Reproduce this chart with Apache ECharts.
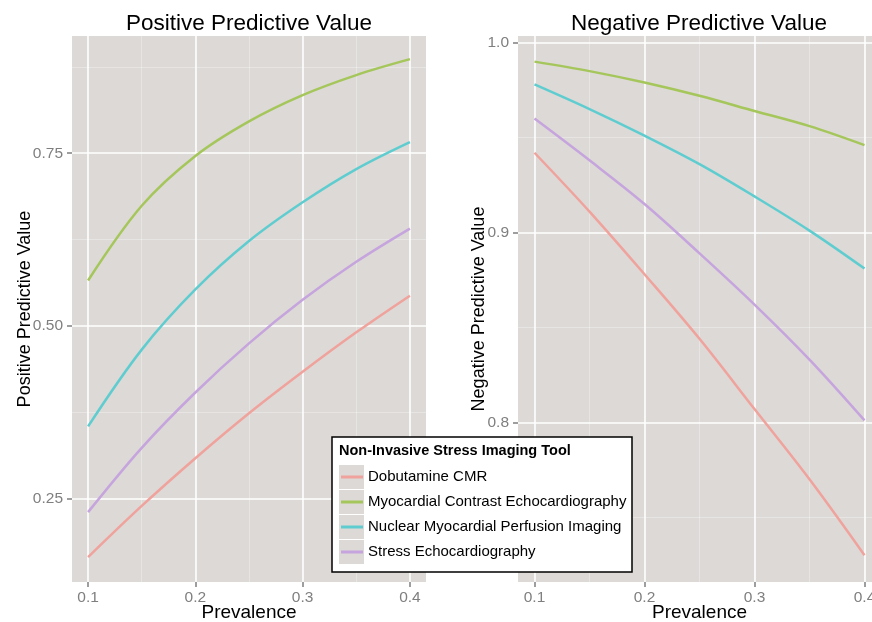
<!DOCTYPE html>
<html lang="en" style="height: 100%">
<head>
  <meta charset="utf-8">
</head>
<body style="height: 100%; margin: 0; background: #fff">
  <div id="container" style="width: 872px; height: 622px"></div>

  <script type="text/javascript" src="https://cdn.jsdelivr.net/npm/echarts@6/dist/echarts.min.js"></script>
  <script type="text/javascript">
    // prevalence values on the x axis
    var prevalence = [0.1, 0.15, 0.2, 0.25, 0.3, 0.35, 0.4];

    var toolNames = [
      'Dobutamine CMR',
      'Myocardial Contrast Echocardiography',
      'Nuclear Myocardial Perfusion Imaging',
      'Stress Echocardiography'
    ];

    // positive predictive value
    var ppvDobutamine = [0.166, 0.240, 0.309, 0.374, 0.434, 0.491, 0.544];
    var ppvContrast   = [0.566, 0.674, 0.746, 0.796, 0.834, 0.863, 0.886];
    var ppvNuclear    = [0.355, 0.466, 0.553, 0.623, 0.679, 0.727, 0.766];
    var ppvStress     = [0.231, 0.324, 0.404, 0.475, 0.538, 0.593, 0.641];

    // negative predictive value
    var npvDobutamine = [0.942, 0.911, 0.878, 0.844, 0.807, 0.770, 0.730];
    var npvContrast   = [0.990, 0.985, 0.979, 0.972, 0.964, 0.956, 0.946];
    var npvNuclear    = [0.978, 0.965, 0.951, 0.936, 0.919, 0.901, 0.881];
    var npvStress     = [0.960, 0.938, 0.915, 0.889, 0.862, 0.833, 0.801];

    // tick labels
    var xTicks = [0.1, 0.2, 0.3, 0.4];
    var xMinor = [0.15, 0.25, 0.35];
    var ppvTicks = [0.25, 0.5, 0.75];
    var ppvMinor = [0.375, 0.625, 0.875];
    var npvTicks = [0.8, 0.9, 1.0];
    var npvMinor = [0.75, 0.85, 0.95];

    var colors = ['#f0a29c', '#a5c65a', '#5fcdd0', '#c6a4dd'];

    var dom = document.getElementById('container');
    var myChart = echarts.init(dom, null, { renderer: 'canvas' });

    var ppvData = [ppvDobutamine, ppvContrast, ppvNuclear, ppvStress];
    var npvData = [npvDobutamine, npvContrast, npvNuclear, npvStress];

    function pairs(values) {
      return prevalence.map(function (p, i) { return [p, values[i]]; });
    }

    var labelColor = '#7f7f7f';
    var font = 'Liberation Sans, Arial, sans-serif';

    function mainX(gridIndex, fmt) {
      return {
        type: 'value', gridIndex: gridIndex, position: 'bottom',
        min: 0.085, max: 0.415,
        name: 'Prevalence', nameLocation: 'middle', nameGap: 21, nameMoveOverlap: false,
        nameTextStyle: { fontSize: 19, color: '#000', fontFamily: font },
        axisLine: { show: false },
        axisTick: { show: true, length: 5, lineStyle: { color: labelColor, width: 1.5 }, customValues: xTicks },
        axisLabel: { margin: 8, fontSize: 15.5, color: labelColor, fontFamily: font, customValues: xTicks, formatter: fmt },
        splitLine: { show: true, lineStyle: { color: '#ffffff', width: 1.6 } }
      };
    }

    function minorX(gridIndex) {
      return {
        type: 'value', gridIndex: gridIndex, position: 'top',
        min: 0.085, max: 0.415,
        axisLine: { show: false },
        axisTick: { show: false, customValues: xMinor },
        axisLabel: { show: false, customValues: xMinor },
        splitLine: { show: true, lineStyle: { color: 'rgba(255,255,255,0.4)', width: 0.8 } }
      };
    }

    function mainY(gridIndex, min, max, ticks, name, gap, fmt) {
      return {
        type: 'value', gridIndex: gridIndex, position: 'left',
        min: min, max: max,
        name: name, nameLocation: 'middle', nameGap: gap, nameMoveOverlap: false,
        nameTextStyle: { fontSize: 18, color: '#000', fontFamily: font },
        axisLine: { show: false },
        axisTick: { show: true, length: 5, lineStyle: { color: labelColor, width: 1.5 }, customValues: ticks },
        axisLabel: { margin: 9, fontSize: 15.5, color: labelColor, fontFamily: font, customValues: ticks, formatter: fmt },
        splitLine: { show: true, lineStyle: { color: '#ffffff', width: 1.6 } }
      };
    }

    function minorY(gridIndex, min, max, ticks) {
      return {
        type: 'value', gridIndex: gridIndex, position: 'right',
        min: min, max: max,
        axisLine: { show: false },
        axisTick: { show: false, customValues: ticks },
        axisLabel: { show: false, customValues: ticks },
        splitLine: { show: true, lineStyle: { color: 'rgba(255,255,255,0.4)', width: 0.8 } }
      };
    }

    var series = [];
    toolNames.forEach(function (name, i) {
      series.push({
        name: name, type: 'line', xAxisIndex: 0, yAxisIndex: 0,
        data: pairs(ppvData[i]), smooth: 0.35, showSymbol: false,
        lineStyle: { width: 2.5, color: colors[i] }, itemStyle: { color: colors[i] }
      });
    });
    toolNames.forEach(function (name, i) {
      series.push({
        name: name, type: 'line', xAxisIndex: 1, yAxisIndex: 1,
        data: pairs(npvData[i]), smooth: 0.35, showSymbol: false,
        lineStyle: { width: 2.5, color: colors[i] }, itemStyle: { color: colors[i] }
      });
    });

    var keyY = [477, 502, 527, 552];
    var graphics = [
      { type: 'rect', z: 20, shape: { x: 332, y: 437, width: 300, height: 135 },
        style: { fill: '#ffffff', stroke: '#000000', lineWidth: 1.5 } },
      { type: 'text', z: 22, x: 339, y: 451,
        style: { text: 'Non-Invasive Stress Imaging Tool', font: 'bold 14.5px Liberation Sans, Arial, sans-serif',
                 fill: '#000', verticalAlign: 'middle' } }
    ];
    keyY.forEach(function (y) {
      graphics.push({ type: 'rect', z: 21, shape: { x: 339, y: y - 12, width: 25, height: 24 },
        style: { fill: '#dcd9d6' } });
    });

    var option = {
      animation: false,
      backgroundColor: '#ffffff',
      color: colors,
      title: [
        { text: 'Positive Predictive Value', left: 249, top: 12, textAlign: 'center', padding: 0,
          textStyle: { fontSize: 22.5, fontWeight: 'normal', color: '#000', fontFamily: font } },
        { text: 'Negative Predictive Value', left: 699, top: 12, textAlign: 'center', padding: 0,
          textStyle: { fontSize: 22.5, fontWeight: 'normal', color: '#000', fontFamily: font } }
      ],
      grid: [
        { left: 72, top: 36, width: 354, height: 546, show: true, backgroundColor: '#dcd9d6', borderWidth: 0,
          containLabel: false, outerBoundsMode: 'none' },
        { left: 518, top: 36, width: 363, height: 546, show: true, backgroundColor: '#dcd9d6', borderWidth: 0,
          containLabel: false, outerBoundsMode: 'none' }
      ],
      xAxis: [
        mainX(0, function (v) { return v.toFixed(1); }),
        mainX(1, function (v) { return v.toFixed(1); }),
        minorX(0),
        minorX(1)
      ],
      yAxis: [
        mainY(0, 0.13, 0.9195, ppvTicks, 'Positive Predictive Value', 38, function (v) { return v.toFixed(2); }),
        mainY(1, 0.7159, 1.0035, npvTicks, 'Negative Predictive Value', 30, function (v) { return v.toFixed(1); }),
        minorY(0, 0.13, 0.9195, ppvMinor),
        minorY(1, 0.7159, 1.0035, npvMinor)
      ],
      legend: {
        data: toolNames,
        orient: 'vertical',
        left: 341, top: 468,
        padding: 0,
        z: 30,
        icon: 'rect',
        itemWidth: 22, itemHeight: 3,
        itemGap: 7,
        textStyle: { fontSize: 15, lineHeight: 18, color: '#000', fontFamily: font }
      },
      graphic: graphics,
      series: series
    };

    myChart.setOption(option);

    window.addEventListener('resize', myChart.resize);
  </script>
</body>
</html>
